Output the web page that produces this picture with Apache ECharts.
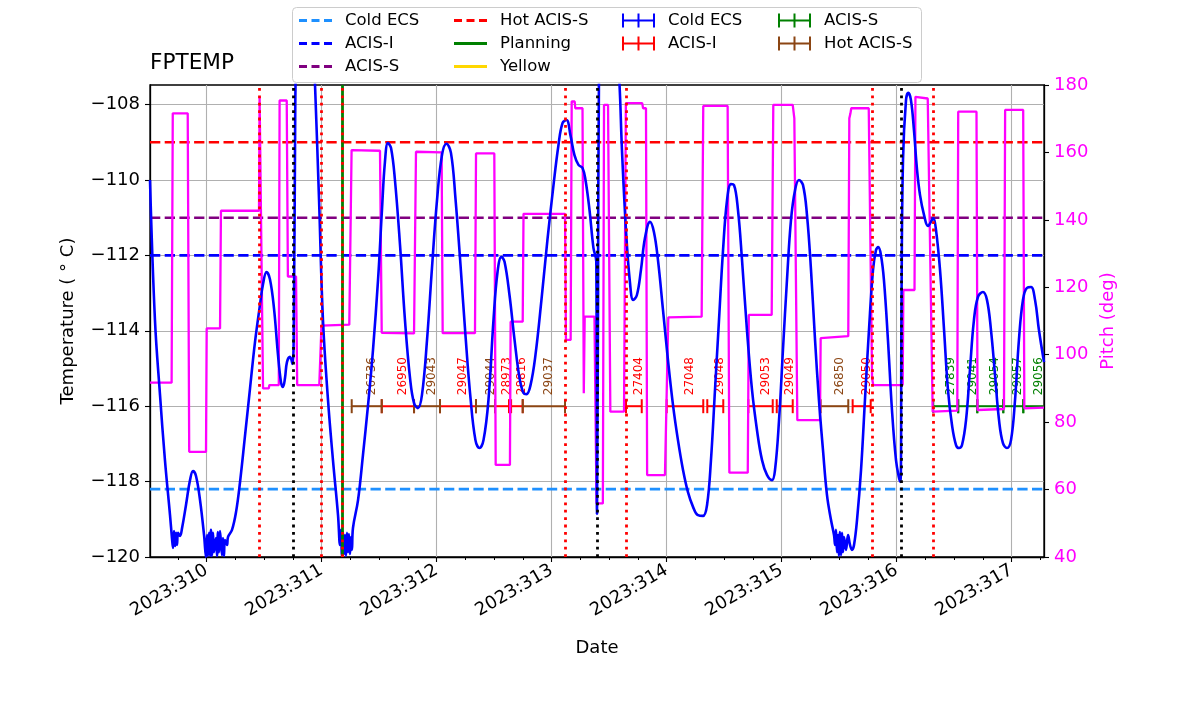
<!DOCTYPE html>
<html><head><meta charset="utf-8">
<script src="https://cdn.jsdelivr.net/npm/echarts@6/dist/echarts.min.js"></script>
<style>html,body{margin:0;padding:0;background:#fff}#c{width:1200px;height:714px}</style>
</head><body><div id="c"></div>
<script>
// ---------------- data ----------------
const X_MIN = 309.507, X_MAX = 317.281;
const T_MIN = -120, T_MAX = -107.48;
const dayTicks = [310, 311, 312, 313, 314, 315, 316, 317];
const minorDayTicks = [309.75, 310.25, 310.5, 310.75, 311.25, 311.5, 311.75, 312.25, 312.5, 312.75,
  313.25, 313.5, 313.75, 314.25, 314.5, 314.75, 315.25, 315.5, 315.75, 316.25, 316.5, 316.75, 317.25];
const tempTicks = [-120, -118, -116, -114, -112, -110, -108];

// FPTEMP (deg C) vs day of year
const fptemp = [
 [309.507,-110.0],[309.550,-113.71],[309.594,-115.70],[309.637,-117.43],[309.681,-118.89],
 [309.698,-119.50],[309.707,-119.76],[309.716,-119.31],[309.725,-119.71],[309.734,-119.36],
 [309.742,-119.68],[309.751,-119.36],[309.768,-119.44],[309.786,-119.23],[309.820,-118.62],
 [309.855,-117.96],[309.881,-117.72],[309.907,-117.85],[309.942,-118.49],[309.977,-119.42],
 [309.994,-120.0],[310.003,-119.42],[310.011,-119.97],[310.020,-119.36],[310.029,-119.97],
 [310.037,-119.28],[310.046,-119.97],[310.055,-119.36],[310.063,-119.87],[310.081,-119.50],
 [310.090,-119.97],[310.098,-119.34],[310.107,-119.87],[310.116,-119.31],[310.133,-119.95],
 [310.142,-119.50],[310.150,-119.97],[310.159,-119.55],[310.177,-119.68],[310.185,-119.47],
 [310.220,-119.28],[310.255,-118.81],[310.290,-118.01],[310.333,-116.79],[310.377,-115.52],
 [310.420,-114.30],[310.463,-113.32],[310.490,-112.76],[310.520,-112.44],[310.550,-112.63],
 [310.585,-113.40],[310.620,-114.64],[310.646,-115.36],[310.663,-115.49],[310.681,-115.25],
 [310.698,-114.83],[310.724,-114.69],[310.746,-114.88],[310.759,-113.18],[310.768,-109.20],
 [310.777,-106.82],[310.811,-105.5],[310.863,-104.8],[310.916,-105.6],[310.942,-107.48],
 [310.977,-110.53],[311.011,-113.71],[311.055,-115.84],[311.098,-117.43],[311.142,-118.89],
 [311.159,-119.68],[311.168,-119.28],[311.176,-119.97],[311.185,-119.34],[311.194,-119.92],
 [311.203,-119.42],[311.211,-119.97],[311.220,-119.36],[311.229,-119.87],[311.237,-119.39],
 [311.246,-119.92],[311.255,-119.47],[311.263,-119.81],[311.272,-119.23],[311.316,-118.49],
 [311.359,-117.29],[311.403,-115.97],[311.446,-114.51],[311.490,-112.65],[311.524,-110.80],
 [311.550,-109.52],[311.576,-109.02],[311.603,-109.15],[311.637,-110.0],[311.681,-111.72],
 [311.724,-113.71],[311.768,-115.25],[311.803,-115.92],[311.837,-116.05],[311.872,-115.70],
 [311.916,-114.24],[311.959,-112.33],[312.003,-110.53],[312.046,-109.34],[312.085,-109.04],
 [312.124,-109.28],[312.163,-110.48],[312.207,-112.25],[312.250,-114.11],[312.294,-115.78],
 [312.337,-116.90],[312.372,-117.11],[312.407,-116.90],[312.450,-115.84],[312.494,-113.71],
 [312.529,-112.44],[312.563,-112.04],[312.590,-112.17],[312.633,-113.05],[312.677,-114.24],
 [312.720,-115.25],[312.755,-115.65],[312.781,-115.68],[312.816,-115.44],[312.859,-114.64],
 [312.911,-113.18],[312.963,-111.59],[313.016,-110.13],[313.059,-109.07],[313.094,-108.49],
 [313.129,-108.41],[313.163,-108.81],[313.198,-109.34],[313.233,-109.60],[313.268,-109.68],
 [313.294,-110.0],[313.329,-110.80],[313.363,-111.80],[313.388,-112.17],[313.394,-118.86],
 [313.403,-113.18],[313.411,-107.35],[313.455,-105.2],[313.516,-105.4],[313.568,-106.55],
 [313.590,-107.48],[313.611,-109.20],[313.646,-111.33],[313.681,-112.73],[313.709,-113.18],
 [313.741,-113.05],[313.776,-112.39],[313.811,-111.54],[313.855,-111.11],[313.889,-111.38],
 [313.924,-112.12],[313.968,-113.45],[314.011,-114.77],[314.055,-115.97],[314.098,-116.90],
 [314.142,-117.69],[314.185,-118.28],[314.229,-118.67],[314.272,-118.89],[314.316,-118.91],
 [314.351,-118.62],[314.385,-117.43],[314.420,-115.57],[314.455,-113.71],[314.490,-111.86],
 [314.525,-110.53],[314.559,-110.11],[314.585,-110.13],[314.620,-110.80],[314.655,-112.12],
 [314.698,-113.98],[314.742,-115.57],[314.785,-116.63],[314.829,-117.43],[314.872,-117.82],
 [314.916,-117.96],[314.942,-117.69],[314.977,-116.37],[315.011,-114.51],[315.046,-112.65],
 [315.081,-111.06],[315.116,-110.27],[315.150,-110.0],[315.185,-110.13],[315.220,-110.93],
 [315.255,-112.39],[315.290,-114.24],[315.324,-115.84],[315.359,-117.16],[315.394,-118.36],
 [315.429,-119.02],[315.455,-119.42],[315.464,-119.68],[315.472,-119.28],[315.481,-119.87],
 [315.490,-119.42],[315.498,-119.97],[315.507,-119.34],[315.516,-119.95],[315.525,-119.36],
 [315.533,-119.87],[315.542,-119.47],[315.559,-119.81],[315.577,-119.42],[315.594,-119.68],
 [315.611,-119.81],[315.629,-119.68],[315.655,-119.02],[315.690,-117.69],[315.724,-115.84],
 [315.759,-113.98],[315.794,-112.39],[315.820,-111.86],[315.840,-111.78],[315.863,-111.99],
 [315.889,-112.65],[315.924,-114.24],[315.959,-116.10],[315.994,-117.43],[316.020,-117.90],
 [316.033,-118.01],[316.042,-113.18],[316.055,-109.47],[316.081,-107.88],[316.101,-107.69],
 [316.124,-107.88],[316.150,-108.67],[316.177,-109.73],[316.203,-110.40],[316.238,-110.93],
 [316.272,-111.22],[316.298,-111.11],[316.318,-111.01],[316.342,-111.33],[316.377,-112.39],
 [316.412,-113.98],[316.446,-115.57],[316.481,-116.50],[316.516,-117.03],[316.542,-117.11],
 [316.568,-117.03],[316.603,-116.37],[316.637,-115.04],[316.672,-113.71],[316.707,-113.10],
 [316.750,-112.97],[316.785,-113.18],[316.820,-113.98],[316.855,-115.17],[316.890,-116.37],
 [316.924,-116.98],[316.959,-117.11],[316.994,-116.90],[317.029,-115.84],[317.063,-114.24],
 [317.098,-113.18],[317.133,-112.86],[317.168,-112.84],[317.203,-113.18],[317.237,-113.98],
 [317.281,-114.83]
];

// Pitch (deg) vs day of year
const pitch = [
 [309.507,91.7],[309.695,91.7],[309.705,171.6],[309.835,171.6],[309.848,71.2],[309.994,71.2],
 [310.0,107.8],[310.116,107.8],[310.124,142.7],[310.455,142.7],[310.46,176.5],[310.47,176.5],
 [310.49,90.0],[310.54,90.0],[310.545,91.0],[310.627,91.0],[310.634,175.4],[310.696,175.4],
 [310.706,123.2],[310.777,123.2],[310.787,91.0],[310.979,91.0],[310.998,108.6],[311.24,108.9],
 [311.26,160.7],[311.507,160.5],[311.522,106.5],[311.803,106.3],[311.82,160.2],[312.043,160.0],
 [312.052,106.4],[312.333,106.4],[312.342,159.7],[312.501,159.7],[312.513,67.3],[312.637,67.3],
 [312.643,109.8],[312.748,109.8],[312.755,141.8],[313.116,141.8],[313.124,104.4],[313.165,104.4],
 [313.174,175.1],[313.2,175.1],[313.205,173.1],[313.268,173.1],[313.279,88.6],[313.287,111.3],
 [313.372,111.3],[313.39,55.9],[313.445,55.9],[313.455,174.1],[313.49,174.1],[313.51,83.1],
 [313.629,83.1],[313.645,174.6],[313.787,174.6],[313.795,173.1],[313.82,173.1],[313.83,64.3],
 [313.985,64.3],[314.014,111.1],[314.304,111.3],[314.318,173.8],[314.53,173.8],[314.545,65.0],
 [314.705,65.0],[314.714,111.8],[314.913,111.8],[314.927,174.1],[315.096,174.1],[315.11,170.1],
 [315.125,170.1],[315.136,80.6],[315.333,80.6],[315.339,104.9],[315.579,105.5],[315.588,170.1],
 [315.598,171.6],[315.605,173.1],[315.757,173.1],[315.786,93.0],[315.796,91.0],[316.052,91.0],
 [316.058,119.2],[316.155,119.2],[316.163,176.5],[316.27,176.0],[316.28,176.0],[316.313,83.1],
 [316.527,83.4],[316.535,172.1],[316.694,172.1],[316.703,83.6],[316.933,83.9],[316.943,172.6],
 [317.10,172.6],[317.11,84.1],[317.281,84.3]
];

// Limits (deg C)
const limitNames  = ['Cold ECS', 'ACIS-I', 'ACIS-S', 'Hot ACIS-S'];
const limitValues = [-118.2, -112.0, -111.0, -109.0];

// Events (day of year)
const redDottedDays   = [310.458, 311.0, 311.176, 313.122, 313.646, 315.788, 316.318];
const blackDottedDays = [310.753, 313.397, 316.037];
const planningDays    = [311.176];

// Observations
const obsStart = [311.261, 311.522, 311.803, 312.029, 312.342, 312.507, 312.647, 312.748,
  313.646, 314.0, 314.353, 314.710, 314.957, 315.339, 315.617,
  316.318, 316.535, 316.701, 316.927, 317.101];
const obsEnd = [311.522, 311.803, 312.029, 312.342, 312.507, 312.629, 312.748, 313.116,
  313.783, 314.318, 314.492, 314.922, 315.096, 315.579, 315.774,
  316.535, 316.701, 316.927, 317.101, 317.29];
const obsId = [26736, 26950, 29043, 29047, 29044, 28973, 28816, 29037,
  27404, 27048, 29048, 29053, 29049, 26850, 29050,
  27839, 29041, 29054, 29057, 29056];
const obsKind = ['Hot ACIS-S', 'ACIS-I', 'Hot ACIS-S', 'ACIS-I', 'Hot ACIS-S', 'ACIS-I', 'ACIS-I', 'Hot ACIS-S',
  'ACIS-I', 'ACIS-I', 'ACIS-I', 'ACIS-I', 'ACIS-I', 'Hot ACIS-S', 'ACIS-I',
  'ACIS-S', 'ACIS-S', 'ACIS-S', 'ACIS-S', 'ACIS-S'];
const OBS_LEVEL = -116;

// ---------------- styling ----------------
const FONT = 'DejaVu Sans';
const limitColors = {'Cold ECS': '#1e90ff', 'ACIS-I': '#0000ff', 'ACIS-S': '#800080', 'Hot ACIS-S': '#ff0000'};
const obsColors = {'Cold ECS': '#0000ff', 'ACIS-I': '#ff0000', 'ACIS-S': '#008000', 'Hot ACIS-S': '#8b4513'};

const DASH_ICON  = 'path://M0,0L0,0ZM33,14L33,14ZM0,5.6H8V8.4H0ZM12.5,5.6H20.5V8.4H12.5ZM25,5.6H33V8.4H25Z';
const SOLID_ICON = 'path://M0,0L0,0ZM33,14L33,14ZM0,5.6H33V8.4H0Z';
const ERR_ICON   = 'path://M0,0L0,0ZM33,14L33,14ZM0,6H33V8H0ZM0,0H2V14H0ZM15.5,0H17.5V14H15.5ZM31,0H33V14H31Z';

const minusFmt = v => (v < 0 ? '\u2212' + Math.abs(v) : String(v));

const series = [];

// vertical grid lines
series.push({
  type: 'line', name: '_vgrid', data: [], silent: true,
  markLine: { z: 1, silent: true, symbol: 'none', animation: false, label: {show: false},
    lineStyle: {color: '#b0b0b0', width: 1.1, type: 'solid'},
    data: dayTicks.map(d => ({xAxis: d})) }
});

// limit lines
limitNames.forEach((n, i) => {
  series.push({
    type: 'line', name: n, color: limitColors[n], silent: true, symbol: 'none',
    lineStyle: {color: limitColors[n], width: 2.6, type: [10.3, 4.4]},
    data: [[X_MIN, limitValues[i]], [X_MAX, limitValues[i]]]
  });
});

// planning + yellow
series.push({
  type: 'line', name: 'Planning', color: '#008000', data: [], silent: true,
  markLine: { z: 5, silent: true, symbol: 'none', animation: false, label: {show: false},
    lineStyle: {color: '#008000', width: 2.8, type: 'solid'},
    data: planningDays.map(d => ({xAxis: d})) }
});
series.push({ type: 'line', name: 'Yellow', color: '#ffd700', data: [], silent: true });

// observation segments
function obsSeries(kind) {
  const color = obsColors[kind];
  const data = [];
  for (let i = 0; i < obsId.length; i++) {
    if (obsKind[i] === kind) data.push([obsStart[i], obsEnd[i], OBS_LEVEL, obsId[i]]);
  }
  return {
    type: 'custom', name: kind + '|obs', color: color, clip: true, silent: true,
    encode: {x: [0, 1], y: 2},
    renderItem: function (params, api) {
      const a = api.coord([api.value(0), api.value(2)]);
      const b = api.coord([api.value(1), api.value(2)]);
      const mid = (a[0] + b[0]) / 2;
      const lw = 2, cap = 7;
      return {
        type: 'group',
        children: [
          {type: 'line', shape: {x1: a[0], y1: a[1], x2: b[0], y2: b[1]}, style: {stroke: color, lineWidth: lw}},
          {type: 'line', shape: {x1: a[0], y1: a[1] - cap, x2: a[0], y2: a[1] + cap}, style: {stroke: color, lineWidth: lw}},
          {type: 'line', shape: {x1: b[0], y1: b[1] - cap, x2: b[0], y2: b[1] + cap}, style: {stroke: color, lineWidth: lw}},
          {type: 'text', x: mid + 5, y: a[1] - 11, rotation: Math.PI / 2,
            style: {text: String(api.value(3)), fill: color, font: '12px "DejaVu Sans"', align: 'left', verticalAlign: 'middle'}}
        ]
      };
    },
    data: data
  };
}
['Cold ECS', 'ACIS-I', 'ACIS-S', 'Hot ACIS-S'].forEach(k => series.push(obsSeries(k)));

// pitch
series.push({
  type: 'line', name: 'Pitch', yAxisIndex: 1, color: '#ff00ff', symbol: 'none', silent: true,
  lineStyle: {color: '#ff00ff', width: 2.3}, data: pitch
});

// temperature
series.push({
  type: 'line', name: 'FPTEMP', color: '#0000ff', symbol: 'none', silent: true,
  smooth: 0.4,
  lineStyle: {color: '#0000ff', width: 2.6}, data: fptemp
});

// dotted event lines
series.push({
  type: 'line', name: '_red', data: [], silent: true,
  markLine: { z: 6, silent: true, symbol: 'none', animation: false, label: {show: false},
    lineStyle: {color: '#ff0000', width: 2.8, type: [2.8, 4.6], cap: 'butt'},
    data: redDottedDays.map(d => ({xAxis: d})) }
});
series.push({
  type: 'line', name: '_black', data: [], silent: true,
  markLine: { z: 6, silent: true, symbol: 'none', animation: false, label: {show: false},
    lineStyle: {color: '#000000', width: 2.8, type: [2.8, 4.6], cap: 'butt'},
    data: blackDottedDays.map(d => ({xAxis: d})) }
});

const legendCommon = {
  orient: 'vertical', top: 12, itemWidth: 33, itemHeight: 14, itemGap: 6, padding: 0,
  selectedMode: false, itemStyle: {borderWidth: 0},
  formatter: n => n.split('|')[0],
  textStyle: {fontFamily: FONT, fontSize: 16.5, color: '#000', padding: [0, 0, 0, 8]}
};

const option = {
  animation: false,
  backgroundColor: '#ffffff',
  textStyle: {fontFamily: FONT},
  title: {text: 'FPTEMP', left: 150, top: 52, padding: 0, textStyle: {fontFamily: FONT, fontSize: 21.6, fontWeight: 'normal', color: '#000'}},
  graphic: [{
    type: 'rect', left: 292, top: 7, z: 0, silent: true,
    shape: {width: 629, height: 75, r: 4},
    style: {fill: 'rgba(255,255,255,0.8)', stroke: '#cccccc', lineWidth: 1}
  }],
  legend: [
    Object.assign({}, legendCommon, {left: 299, data: [
      {name: 'Cold ECS', icon: DASH_ICON}, {name: 'ACIS-I', icon: DASH_ICON}, {name: 'ACIS-S', icon: DASH_ICON}]}),
    Object.assign({}, legendCommon, {left: 454, data: [
      {name: 'Hot ACIS-S', icon: DASH_ICON}, {name: 'Planning', icon: SOLID_ICON}, {name: 'Yellow', icon: SOLID_ICON}]}),
    Object.assign({}, legendCommon, {left: 622, data: [
      {name: 'Cold ECS|obs', icon: ERR_ICON}, {name: 'ACIS-I|obs', icon: ERR_ICON}]}),
    Object.assign({}, legendCommon, {left: 778, data: [
      {name: 'ACIS-S|obs', icon: ERR_ICON}, {name: 'Hot ACIS-S|obs', icon: ERR_ICON}]})
  ],
  grid: {left: 150, right: 156, top: 85, bottom: 157, show: true, borderColor: '#000', borderWidth: 1.3, backgroundColor: 'transparent'},
  xAxis: [{
    type: 'value', min: X_MIN, max: X_MAX,
    name: 'Date', nameLocation: 'middle', nameGap: 82,
    nameTextStyle: {fontFamily: FONT, fontSize: 18, color: '#000'},
    axisLine: {show: true, lineStyle: {color: '#000', width: 1.3}},
    axisTick: {show: true, customValues: dayTicks, length: 5, lineStyle: {color: '#000', width: 1.1}},
    axisLabel: {customValues: dayTicks, formatter: v => '2023:' + v, rotate: 30, margin: 12,
      fontFamily: FONT, fontSize: 18, color: '#000'},
    splitLine: {show: false}
  }, {
    type: 'value', min: X_MIN, max: X_MAX, position: 'bottom',
    axisLine: {show: false},
    axisTick: {show: true, customValues: minorDayTicks, length: 3, lineStyle: {color: '#000', width: 1}},
    axisLabel: {show: false},
    splitLine: {show: false}
  }],
  yAxis: [{
    type: 'value', min: T_MIN, max: T_MAX, interval: 2, position: 'left',
    name: 'Temperature ( \u00b0 C)', nameLocation: 'middle', nameGap: 73, nameRotate: 90,
    nameTextStyle: {fontFamily: FONT, fontSize: 18, color: '#000'},
    axisLine: {show: true, lineStyle: {color: '#000', width: 1.3}},
    axisTick: {show: true, customValues: tempTicks, length: 5, lineStyle: {color: '#000', width: 1.1}},
    axisLabel: {customValues: tempTicks, formatter: minusFmt, margin: 10, fontFamily: FONT, fontSize: 18, color: '#000'},
    splitLine: {show: true, lineStyle: {color: '#b0b0b0', width: 1.1}}
  }, {
    type: 'value', min: 40, max: 180, interval: 20, position: 'right',
    name: 'Pitch (deg)', nameLocation: 'middle', nameGap: 52, nameRotate: 90,
    nameTextStyle: {fontFamily: FONT, fontSize: 18, color: '#ff00ff'},
    axisLine: {show: true, lineStyle: {color: '#000', width: 1.3}},
    axisTick: {show: true, length: 5, lineStyle: {color: '#000', width: 1.1}},
    axisLabel: {margin: 10, fontFamily: FONT, fontSize: 18, color: '#ff00ff'},
    splitLine: {show: false}
  }],
  series: series
};

const chart = echarts.init(document.getElementById('c'), null, {renderer: 'canvas'});
chart.setOption(option);
</script>
</body></html>
